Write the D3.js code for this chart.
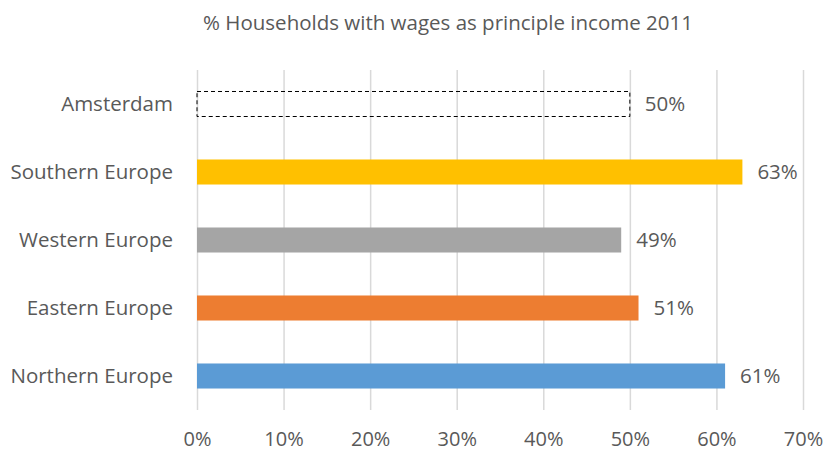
<!DOCTYPE html>
<html>
<head>
<meta charset="utf-8">
<script src="https://cdn.jsdelivr.net/npm/d3@7"></script>
<style>
  html, body { margin: 0; padding: 0; background: #fff; }
  svg { display: block; font-family: "Open Sans", sans-serif; }
</style>
</head>
<body>
<svg id="chart" width="823" height="451"></svg>
<script>
// Share of households whose principal income is wages, 2011
const categories = ["Amsterdam", "Southern Europe", "Western Europe", "Eastern Europe", "Northern Europe"];
const values = [50, 63, 49, 51, 61];
const colors = ["none", "#FFC000", "#A5A5A5", "#ED7D31", "#5B9BD5"];
const tickValues = [0, 10, 20, 30, 40, 50, 60, 70];
const title = "% Households with wages as principle income 2011";

const svg = d3.select("#chart");
const textColor = "#595959";

const x = d3.scaleLinear().domain([0, 70]).range([197, 803]);
const y = d3.scaleBand().domain(categories).range([70, 410]).paddingInner(0.632).paddingOuter(0.316);

// Title
svg.append("text")
  .attr("x", 448).attr("y", 30)
  .attr("text-anchor", "middle")
  .attr("fill", textColor)
  .style("font-size", "20.5px")
  .text(title);

// Vertical gridlines with percentage ticks
const xAxis = d3.axisBottom(x)
  .tickValues(tickValues)
  .tickSize(-(410 - 70))
  .tickPadding(22)
  .tickFormat(d => d + "%");

const gx = svg.append("g").attr("transform", "translate(0,410)").call(xAxis);
gx.select(".domain").remove();
gx.selectAll(".tick line").attr("stroke", "#D9D9D9").attr("stroke-width", 1.5);
gx.selectAll(".tick text")
  .attr("fill", textColor)
  .style("font-size", "20px")
  .style("font-family", "Open Sans, sans-serif");

// Category labels
const yAxis = d3.axisLeft(y).tickSize(0).tickPadding(24);
const gy = svg.append("g").attr("transform", "translate(197,0)").call(yAxis);
gy.select(".domain").remove();
gy.selectAll(".tick text")
  .attr("fill", textColor)
  .style("font-size", "20.5px")
  .style("font-family", "Open Sans, sans-serif");

const data = categories.map((c, i) => ({ cat: c, value: values[i], color: colors[i] }));

// Bars (the Amsterdam reference bar is an outline only)
svg.append("g").selectAll("rect")
  .data(data)
  .join("rect")
  .attr("x", x(0))
  .attr("y", d => y(d.cat))
  .attr("width", d => x(d.value) - x(0))
  .attr("height", y.bandwidth())
  .attr("fill", d => d.color)
  .attr("stroke", d => d.color === "none" ? "#000" : "none")
  .attr("stroke-width", 1)
  .attr("stroke-dasharray", d => d.color === "none" ? "4,3" : null);

// Value labels
svg.append("g").selectAll("text")
  .data(data)
  .join("text")
  .attr("x", d => x(d.value) + 15)
  .attr("y", d => y(d.cat) + y.bandwidth() / 2)
  .attr("dy", "0.35em")
  .attr("fill", textColor)
  .style("font-size", "20.5px")
  .text(d => d.value + "%");
</script>
</body>
</html>
